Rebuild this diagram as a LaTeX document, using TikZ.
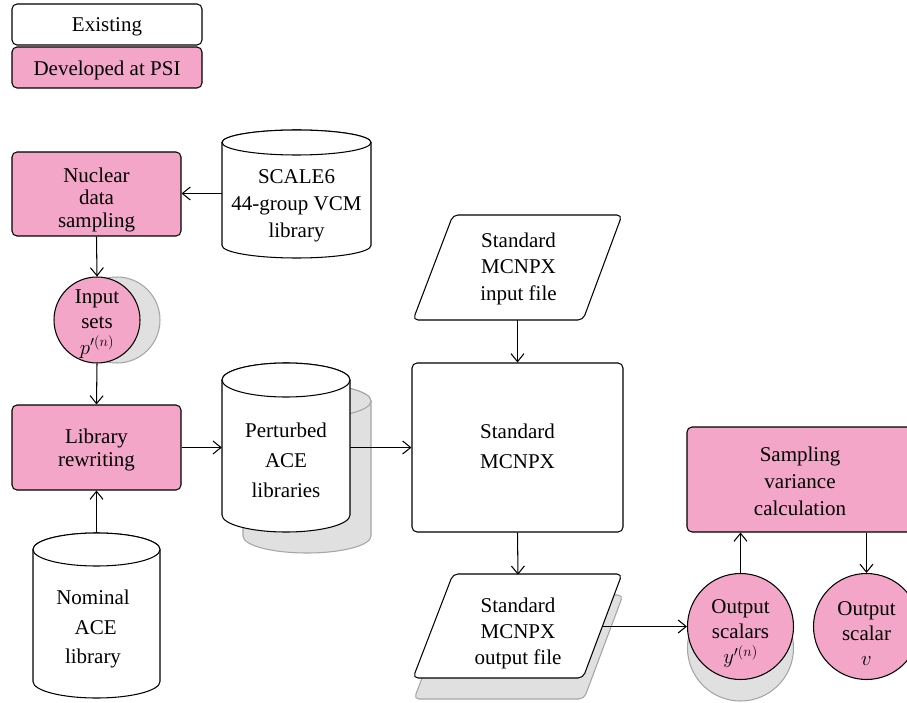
\documentclass[tikz,border=0pt]{standalone}
\usepackage{fontspec}
\setmainfont{Liberation Serif}
\usetikzlibrary{arrows.meta}
\definecolor{psipink}{RGB}{243,166,200}
\definecolor{shadowgray}{RGB}{224,224,224}
\definecolor{shadowedge}{RGB}{165,165,165}
\newcommand\drawcyl[6]{%
  \path[#1] ({#2-#5},#3) -- ({#2-#5},#4) arc[start angle=180,end angle=360,x radius=#5pt,y radius=#6pt] -- ({#2+#5},#3) arc[start angle=0,end angle=180,x radius=#5pt,y radius=#6pt] -- cycle;
  \path[#1] (#2,#3) ellipse[x radius=#5pt,y radius=#6pt];
}
\tikzset{
  line/.style={draw=black, line width=1.05pt},
  arr/.style={draw=black, line width=1.05pt, -{Straight Barb[length=8pt,width=13pt,line width=1.05pt]}},
  box/.style={line, rounded corners=5pt, inner sep=0pt},
  whitebox/.style={box, fill=white},
  pinkbox/.style={box, fill=psipink},
  pinkcirc/.style={line, circle, fill=psipink, inner sep=0pt, minimum size=#1},
  shadow/.style={fill=shadowgray, draw=shadowedge, line width=1.05pt},
  cylw/.style={line, fill=white},
  txt/.style={inner sep=0pt, align=center},
  every node/.style={font=\fontsize{21}{22.5}\selectfont},
}
\begin{document}
\begin{tikzpicture}[x=1pt,y=1pt]
\useasboundingbox (0,0) rectangle (907,-703);

% legend
\node[whitebox, minimum width=190pt, minimum height=41pt] (leg1) at (107,-24.5) {};
\node[txt] (leg1T) at (107,-27) {Existing};
\node[pinkbox, minimum width=190pt, minimum height=41pt] (leg2) at (107,-67.5) {};
\node[txt] (leg2T) at (107,-70) {Developed at PSI};

% nuclear data sampling
\node[pinkbox, minimum width=169pt, minimum height=84pt] (nuc) at (96.5,-194) {};
\node[txt] (nucT) at (96.5,-199.5) {Nuclear\\data\\sampling};

% SCALE6 cylinder
\drawcyl{cylw}{296.5}{-142.5}{-245.5}{74.5}{12.5}
\node[txt, minimum width=149pt, font=\fontsize{21}{27}\selectfont] (scale) at (296.5,-206) {SCALE6\\44-group VCM\\library};

% input sets
\path[shadow] (117,-320) circle[radius=43pt];
\node[pinkcirc=86pt] (ins) at (97,-320) {};
\node[txt, font=\fontsize{21}{25.5}\selectfont] (insT) at (97,-324) {Input\\sets\\$p'^{(n)}$};

% library rewriting
\node[pinkbox, minimum width=169pt, minimum height=85pt] (lib) at (96.5,-447.5) {};
\node[txt] (libT) at (96.5,-450) {Library\\rewriting};

% nominal ACE cylinder
\drawcyl{cylw}{96.5}{-549.5}{-681.5}{63.5}{16.5}
\coordinate (nomtop) at (96.5,-533);
\node[txt, font=\fontsize{21}{29.5}\selectfont] (nom) at (93,-629) {Nominal\\ \ ACE\\library};

% perturbed ACE cylinders
\drawcyl{shadow}{307}{-401}{-536}{64}{17}
\drawcyl{cylw}{286}{-380}{-515}{64}{17}
\node[txt, minimum width=128pt, font=\fontsize{21}{30}\selectfont] (pert) at (286,-460) {Perturbed\\ACE\\libraries};

% standard MCNPX input file
\draw[line, fill=white, rounded corners=5pt] (453,-215) -- (622,-215) -- (583,-320) -- (413,-320) -- cycle;
\node[inner sep=0pt, minimum width=130pt, minimum height=105pt] (inp) at (517.5,-267.5) {};
\node[txt, font=\fontsize{21}{26.5}\selectfont] (inpT) at (518.5,-268.5) {Standard\\MCNPX\\input file};

% standard MCNPX
\node[whitebox, minimum width=211pt, minimum height=169pt] (mc) at (517.5,-447.5) {};
\node[txt, font=\fontsize{21}{30}\selectfont] (mcT) at (517.5,-446) {Standard\\MCNPX};

% output file
\draw[shadow, rounded corners=5pt] (454,-595) -- (623,-595) -- (584,-699) -- (414,-699) -- cycle;
\draw[line, fill=white, rounded corners=5pt] (453,-574) -- (622,-574) -- (583,-678) -- (413,-678) -- cycle;
\node[inner sep=0pt, minimum width=168pt, minimum height=103pt] (out) at (518,-626.5) {};
\node[txt, font=\fontsize{21}{26}\selectfont] (outT) at (518,-633) {Standard\\MCNPX\\output file};

% sampling variance calculation
\node[pinkbox, minimum width=226pt, minimum height=105pt] (svc) at (800,-479.5) {};
\node[txt, font=\fontsize{21}{27}\selectfont] (svcT) at (800,-481) {Sampling\\variance\\calculation};

% output scalars
\path[shadow] (740.5,-648) circle[radius=53pt];
\node[pinkcirc=106pt] (osc) at (740.5,-626.5) {};
\node[txt, font=\fontsize{21}{25}\selectfont] (oscT) at (740.5,-634) {Output\\scalars\\$y'^{(n)}$};

% output scalar
\node[pinkcirc=106pt] (os) at (866.5,-626.5) {};
\node[txt, font=\fontsize{21}{25}\selectfont] (osT) at (866.5,-634) {Output\\scalar\\$v$};

% connectors
\draw[arr] (scale.west |- 0,-193.5) -- (nuc.east |- 0,-193.5);
\draw[arr] (nuc.south) -- (ins.north);
\draw[arr] (ins.south) -- (lib.north);
\draw[arr] (nomtop) -- (lib.south);
\draw[arr] (lib.east) -- (lib.east -| pert.west);
\draw[arr] (lib.east -| pert.east) -- (mc.west);
\draw[arr] (inp.south) -- (mc.north);
\draw[arr] (mc.south) -- (out.north);
\draw[arr] (out.east) -- (osc.west);
\draw[arr] (osc.north) -- (osc.north |- svc.south);
\draw[arr] (svc.south -| os.north) -- (os.north);
\end{tikzpicture}
\end{document}
